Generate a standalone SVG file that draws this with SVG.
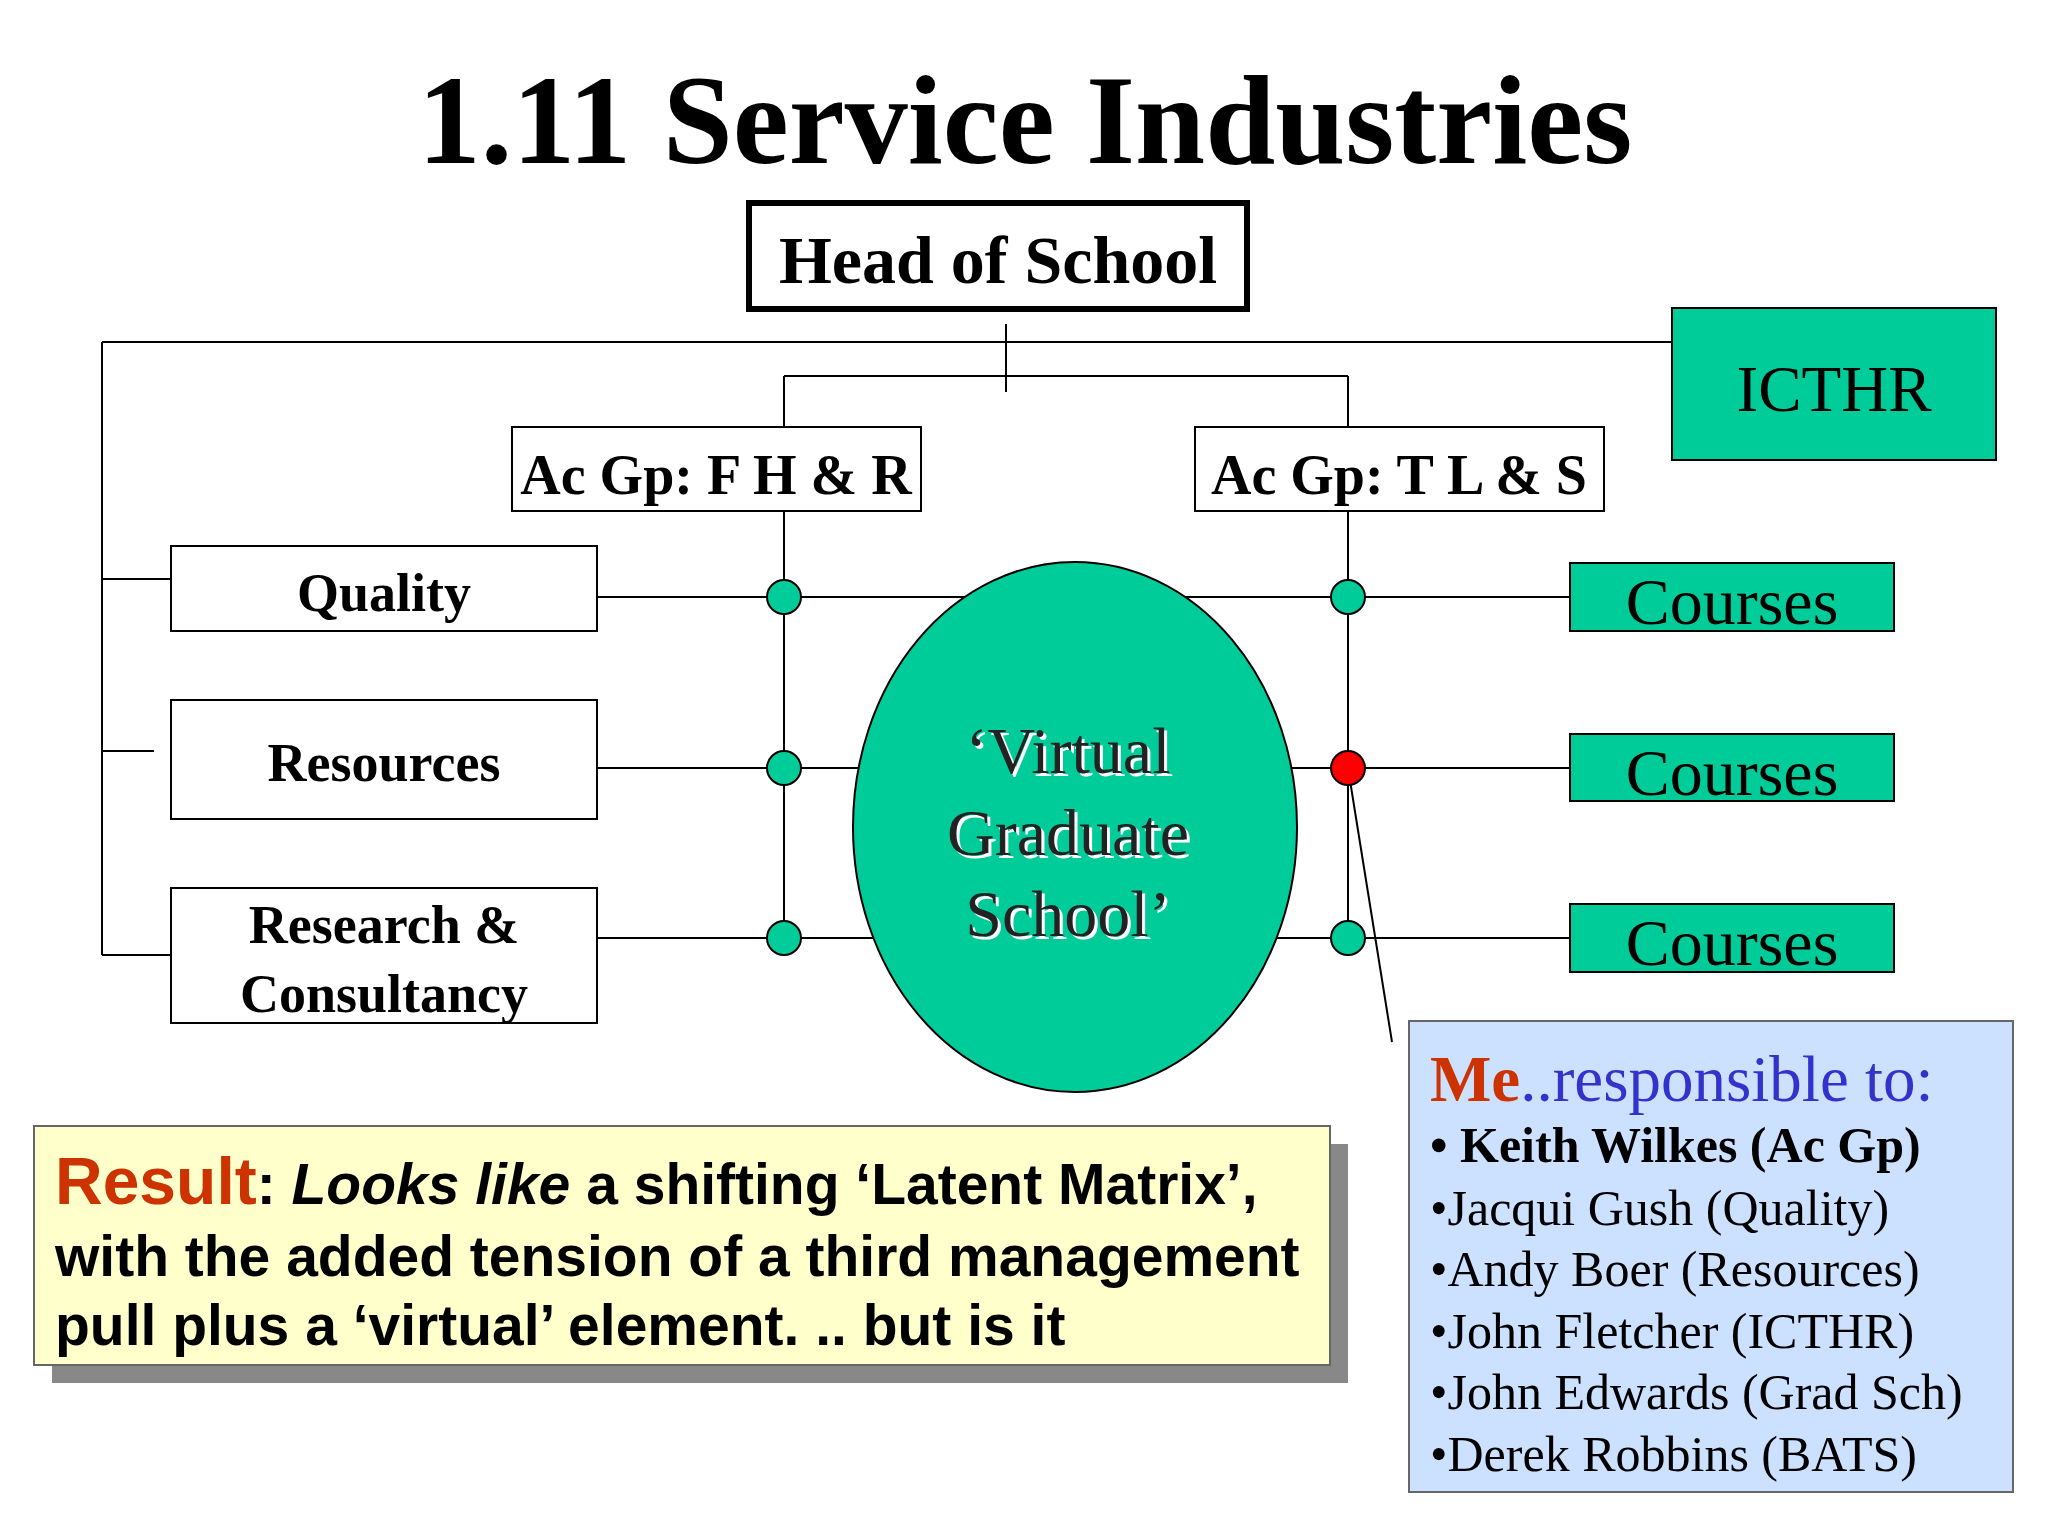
<svg xmlns="http://www.w3.org/2000/svg" width="2048" height="1536" viewBox="0 0 2048 1536">
<style>
.ln{stroke:#000;stroke-width:2;fill:none}
.bx{fill:#fff;stroke:#000;stroke-width:2}
.gr{fill:#00CC99;stroke:#000;stroke-width:2}
.sb{font-family:"Liberation Serif",serif;font-weight:bold}
.s{font-family:"Liberation Serif",serif}
.dot{fill:#00CC99;stroke:#000;stroke-width:2}
</style>
<rect width="2048" height="1536" fill="#fff"/>
<text x="1025" y="163" text-anchor="middle" class="sb" font-size="126">1.11 Service Industries</text>
<g id="connectors">
<path class="ln" d="M102 342H1672M102 342V955M102 579H171M102 751H154M102 955H171M1006 324V392M784 376H1348M784 376V427M1348 376V427M784 511V938M1348 511V938M597 597H1570M597 768H1570M597 938H1570M1348 768L1392 1042"/>
</g>
<g id="head"><rect x="749" y="203" width="498" height="106" fill="#fff" stroke="#000" stroke-width="6"/><text x="998" y="283" text-anchor="middle" class="sb" font-size="68">Head of School</text></g>
<g id="icthr"><rect class="gr" x="1672" y="308" width="324" height="152"/><text x="1834" y="411" text-anchor="middle" class="s" font-size="65">ICTHR</text></g>
<g id="fhr"><rect class="bx" x="512" y="427" width="409" height="84"/><text x="716" y="494" text-anchor="middle" class="sb" font-size="56">Ac Gp: F H &amp; R</text></g>
<g id="tls"><rect class="bx" x="1195" y="427" width="409" height="84"/><text x="1399" y="494" text-anchor="middle" class="sb" font-size="56">Ac Gp: T L &amp; S</text></g>
<g id="quality"><rect class="bx" x="171" y="546" width="426" height="85"/><text x="384" y="611" text-anchor="middle" class="sb" font-size="54">Quality</text></g>
<g id="resources"><rect class="bx" x="171" y="700" width="426" height="119"/><text x="384" y="781" text-anchor="middle" class="sb" font-size="54">Resources</text></g>
<g id="research"><rect class="bx" x="171" y="888" width="426" height="135"/><text x="384" y="943" text-anchor="middle" class="sb" font-size="54">Research &amp;</text><text x="384" y="1012" text-anchor="middle" class="sb" font-size="54">Consultancy</text></g>
<g id="vgs"><ellipse class="gr" cx="1075" cy="827" rx="222" ry="265"/>
<g class="s" font-size="66" text-anchor="middle"><g fill="#fff" transform="translate(3,3)"><text x="1068" y="773">‘Virtual</text><text x="1068" y="855">Graduate</text><text x="1068" y="936">School’</text></g>
<g fill="#222"><text x="1068" y="773">‘Virtual</text><text x="1068" y="855">Graduate</text><text x="1068" y="936">School’</text></g></g></g>
<g id="courses1"><rect class="gr" x="1570" y="563" width="324" height="68"/><text x="1732" y="624" text-anchor="middle" class="s" font-size="66">Courses</text></g>
<g id="courses2"><rect class="gr" x="1570" y="734" width="324" height="67"/><text x="1732" y="795" text-anchor="middle" class="s" font-size="66">Courses</text></g>
<g id="courses3"><rect class="gr" x="1570" y="904" width="324" height="68"/><text x="1732" y="965" text-anchor="middle" class="s" font-size="66">Courses</text></g>
<g id="dots"><circle class="dot" cx="784" cy="597" r="17"/><circle class="dot" cx="784" cy="768" r="17"/><circle class="dot" cx="784" cy="938" r="17"/><circle class="dot" cx="1348" cy="597" r="17"/><circle cx="1348" cy="768" r="17" fill="#f00" stroke="#000" stroke-width="2"/><circle class="dot" cx="1348" cy="938" r="17"/></g>
<g id="me"><rect x="1409" y="1021" width="604" height="471" fill="#CCE0FF" stroke="#666" stroke-width="2"/>
<text x="1430" y="1101" class="s" font-size="65"><tspan fill="#CC3300" font-weight="bold">Me</tspan><tspan fill="#3333CC">..responsible to:</tspan></text>
<g class="s" font-size="50"><text x="1430" y="1162" font-weight="bold">• Keith Wilkes (Ac Gp)</text><text x="1430" y="1225">•Jacqui Gush (Quality)</text><text x="1430" y="1286">•Andy Boer (Resources)</text><text x="1430" y="1348">•John Fletcher (ICTHR)</text><text x="1430" y="1409">•John Edwards (Grad Sch)</text><text x="1430" y="1471">•Derek Robbins (BATS)</text></g></g>
<g id="result"><rect x="52" y="1144" width="1296" height="239" fill="#888"/><rect x="34" y="1126" width="1296" height="239" fill="#FFFFCC" stroke="#666" stroke-width="2"/>
<g font-family="Liberation Sans,Arial,sans-serif" font-weight="bold" font-size="57"><text x="55" y="1204"><tspan fill="#CC3300" font-size="66">Result</tspan>: <tspan font-style="italic">Looks like</tspan> a shifting ‘Latent Matrix’,</text><text x="55" y="1276">with the added tension of a third management</text><text x="55" y="1345">pull plus a ‘virtual’ element. .. but is it</text></g></g>
</svg>
